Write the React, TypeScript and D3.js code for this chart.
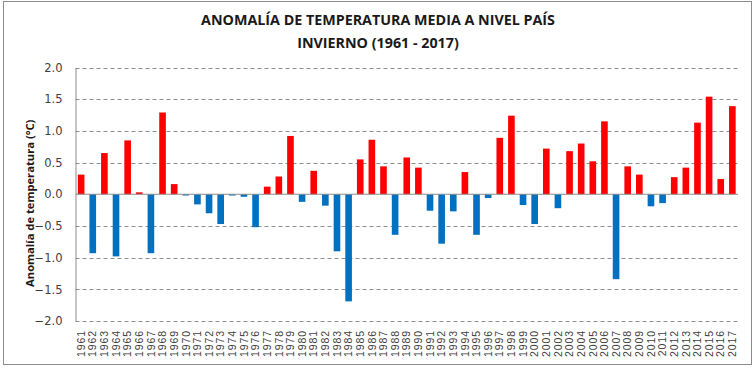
import { useEffect, useRef } from 'react';
import * as d3 from 'd3';

// años y anomalías de invierno (°C)
const years: string[] = d3.range(1961, 2018).map(String);
const anomalies: number[] = [
  0.31, -0.93, 0.65, -0.98, 0.85, 0.03, -0.93, 1.29, 0.16, -0.02,
  -0.16, -0.30, -0.47, -0.02, -0.04, -0.52, 0.12, 0.28, 0.92, -0.12,
  0.37, -0.18, -0.90, -1.69, 0.55, 0.86, 0.44, -0.64, 0.58, 0.42,
  -0.26, -0.78, -0.27, 0.35, -0.64, -0.06, 0.89, 1.24, -0.17, -0.47,
  0.72, -0.22, 0.68, 0.80, 0.52, 1.15, -1.34, 0.44, 0.31, -0.19,
  -0.14, 0.27, 0.42, 1.13, 1.54, 0.24, 1.39,
];
const yTicks: number[] = [-2, -1.5, -1, -0.5, 0, 0.5, 1, 1.5, 2];
const titleLines: string[] = ['ANOMALÍA DE TEMPERATURA MEDIA A NIVEL PAÍS', 'INVIERNO (1961 - 2017)'];
const yTitle = 'Anomalía de temperatura (°C)';

const W = 755;
const H = 368;
const margin = { left: 75.5, right: 17, top: 67.5, bottom: 47 };

const App = () => {
  const svgRef = useRef<SVGSVGElement>(null);

  useEffect(() => {
    const svg = d3.select(svgRef.current);
    svg.selectAll('*').remove();

    const x = d3.scaleBand<string>()
      .domain(years)
      .range([margin.left, W - margin.right])
      .paddingInner(0.43)
      .paddingOuter(0.2);
    const y = d3.scaleLinear().domain([-2, 2]).range([H - margin.bottom, margin.top]);

    // marco
    svg.append('rect')
      .attr('x', 3.5).attr('y', 1.5)
      .attr('width', 748).attr('height', 363)
      .attr('fill', '#fff').attr('stroke', '#8c8c8c').attr('stroke-width', 1);

    // título
    svg.append('g')
      .selectAll('text')
      .data(titleLines)
      .join('text')
      .attr('x', 378).attr('y', (d, i) => 25 + i * 23)
      .attr('text-anchor', 'middle')
      .attr('font-family', 'Open Sans, Liberation Sans, sans-serif')
      .attr('font-weight', 'bold')
      .attr('font-size', 14.3)
      .attr('fill', '#1a1a1a')
      .text(d => d);

    // grilla
    svg.append('g')
      .selectAll('line')
      .data(yTicks.filter(t => t !== 0))
      .join('line')
      .attr('x1', margin.left).attr('x2', W - margin.right)
      .attr('y1', d => Math.round(y(d)) + 0.5).attr('y2', d => Math.round(y(d)) + 0.5)
      .attr('stroke', '#8f8f8f').attr('stroke-dasharray', '4,3');

    // eje y
    const yAxis = svg.append('g')
      .attr('transform', `translate(${margin.left},0)`)
      .call(d3.axisLeft(y).tickValues(yTicks).tickSize(0).tickPadding(13).tickFormat(d3.format('.1f')));
    yAxis.select('.domain').attr('stroke', '#8c8c8c');
    yAxis.selectAll('text')
      .attr('font-family', 'DejaVu Sans, Verdana, sans-serif')
      .attr('font-size', 11.5)
      .attr('fill', '#404040');

    svg.append('text')
      .attr('transform', `translate(34,${(margin.top + H - margin.bottom) / 2 + 9}) rotate(-90)`)
      .attr('text-anchor', 'middle')
      .attr('font-family', 'Open Sans, Liberation Sans, sans-serif')
      .attr('font-weight', 'bold')
      .attr('font-size', 11.2)
      .attr('fill', '#1a1a1a')
      .text(yTitle);

    // barras
    svg.append('g')
      .selectAll('rect')
      .data(anomalies)
      .join('rect')
      .attr('x', (d, i) => x(years[i]) as number)
      .attr('width', x.bandwidth())
      .attr('y', d => y(Math.max(0, d)))
      .attr('height', d => Math.abs(y(d) - y(0)))
      .attr('fill', d => (d >= 0 ? '#ff0000' : '#0070c0'));

    // línea de cero
    svg.append('line')
      .attr('x1', margin.left).attr('x2', W - margin.right)
      .attr('y1', y(0)).attr('y2', y(0))
      .attr('stroke', '#8c8c8c');

    // etiquetas del eje x
    svg.append('g')
      .selectAll('text')
      .data(years)
      .join('text')
      .attr('transform', d => `translate(${(x(d) as number) + x.bandwidth() / 2 + 3.7},${H - margin.bottom + 9}) rotate(-90)`)
      .attr('text-anchor', 'end')
      .attr('font-family', 'Liberation Sans, Arial, sans-serif')
      .attr('font-size', 10.5)
      .attr('letter-spacing', 0.9)
      .attr('fill', '#404040')
      .text(d => d);
  }, []);

  return <svg ref={svgRef} width={W} height={H} style={{ position: 'absolute', left: 0, top: 0 }}></svg>;
};

export default App;
